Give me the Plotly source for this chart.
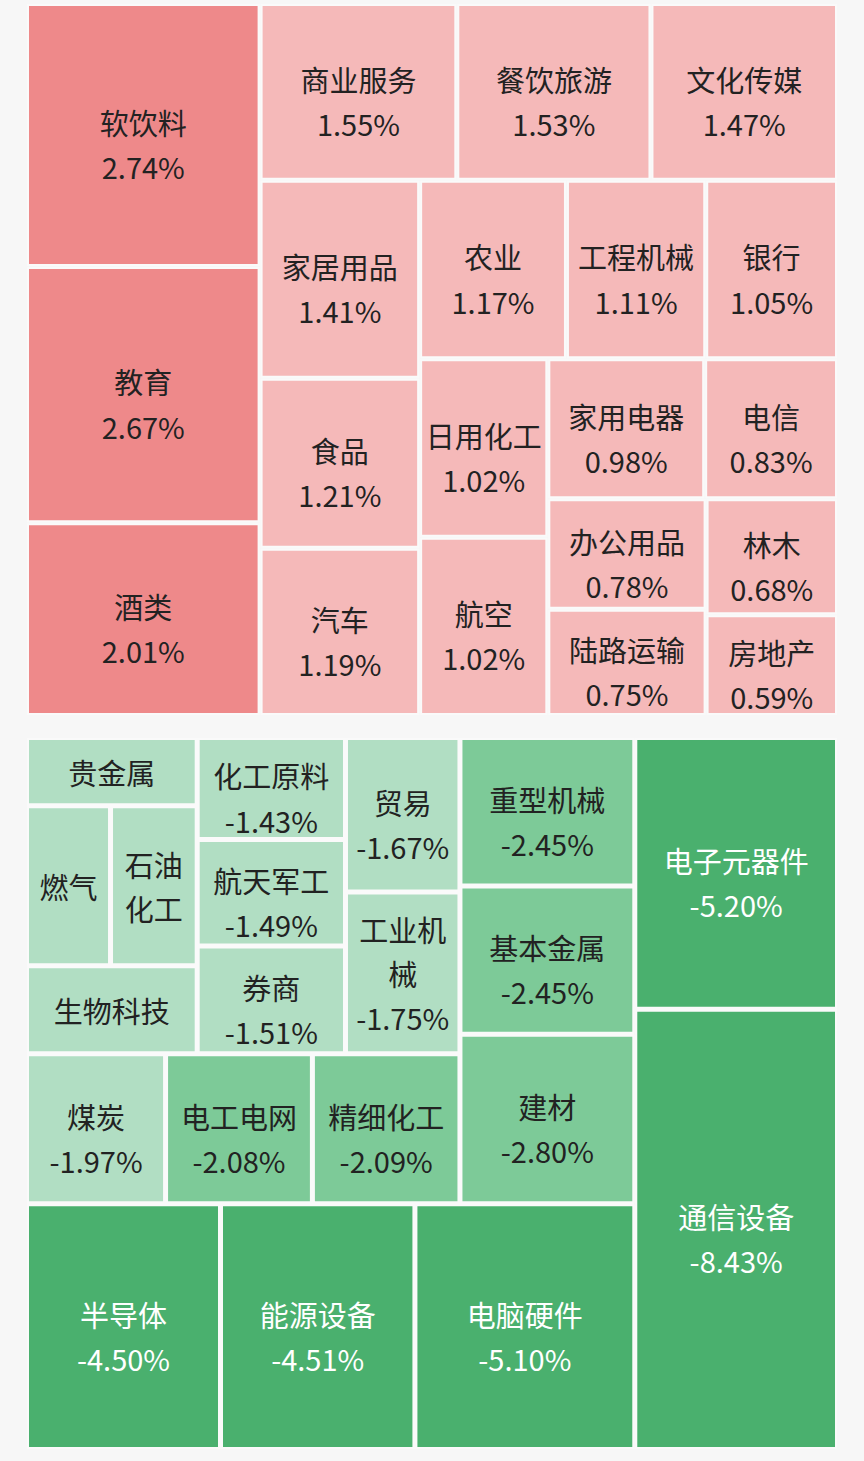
import plotly.graph_objects as go

# 涨幅板块
up_names = ['软饮料', '教育', '酒类', '商业服务', '餐饮旅游', '文化传媒', '家居用品', '食品', '汽车',
            '农业', '工程机械', '银行', '日用化工', '航空', '家用电器', '电信', '办公用品', '陆路运输',
            '林木', '房地产']
up_pct = [2.74, 2.67, 2.01, 1.55, 1.53, 1.47, 1.41, 1.21, 1.19,
          1.17, 1.11, 1.05, 1.02, 1.02, 0.98, 0.83, 0.78, 0.75,
          0.68, 0.59]

# 跌幅板块 (按跌幅从大到小)
down_names = ['通信设备', '电子元器件', '电脑硬件', '能源设备', '半导体', '建材', '基本金属', '重型机械',
              '精细化工', '电工电网', '煤炭', '工业机械', '贸易', '券商', '航天军工', '化工原料',
              '生物科技', '石油化工', '燃气', '贵金属']
down_pct = [-8.43, -5.20, -5.10, -4.51, -4.50, -2.80, -2.45, -2.45,
            -2.09, -2.08, -1.97, -1.75, -1.67, -1.51, -1.49, -1.43,
            -1.42, -1.31, -1.27, -1.10]
# 右侧单独一列的两个板块
down_group_a = ['通信设备', '电子元器件']

# 小格子里的换行 / 不显示数值
wrap = {'石油化工': '石油<br>化工', '工业机械': '工业机<br>械'}
no_value = ['生物科技', '石油化工', '燃气', '贵金属']

# 透明的高字符，只用来把两行文字整体往下推一点
SPACER = '<span style="font-size:45px;fill-opacity:0">|</span>'


def cell_text(name, p):
    lines = wrap.get(name, name).split('<br>')
    if name not in no_value:
        if len(lines) == 1:
            lines[0] = SPACER + lines[0] + SPACER
        lines.append('%.2f%%' % p)
    # 行距按大字号算，字形用小一点的字号
    return '<br>'.join('<span style="font-size:29px">' + s + '</span>' for s in lines)


def up_color(p):
    return '#ee898a' if p >= 2 else '#f5b9b9'


def down_color(p):
    if p <= -4:
        return '#4ab06e'
    if p <= -2:
        return '#7dca98'
    return '#b1dec3'


W, H = 864, 1461
font = 'Noto Sans CJK SC, Noto Sans, sans-serif'
dark = '#222222'

top = go.Treemap(
    labels=up_names,
    parents=[''] * len(up_names),
    values=[abs(v) for v in up_pct],
    text=[cell_text(n, p) for n, p in zip(up_names, up_pct)],
    texttemplate='%{text}',
    textposition='middle center',
    textfont=dict(family=font, size=34, color=dark),
    marker=dict(colors=[up_color(p) for p in up_pct],
                line=dict(color='#fafafa', width=2),
                pad=dict(t=0, l=0, r=0, b=0),
                depthfade=False),
    pathbar=dict(visible=False),
    sort=True,
    hoverinfo='skip',
    domain=dict(x=[28 / W, 836 / W], y=[1 - 714 / H, 1 - 5 / H]),
)

# 下半部分：两个分组节点 + 叶子
b_labels = ['A组', 'B组'] + down_names
b_parents = ['', ''] + ['A组' if n in down_group_a else 'B组' for n in down_names]
b_values = [0, 0] + [abs(v) for v in down_pct]
b_text = ['', ''] + [cell_text(n, p) for n, p in zip(down_names, down_pct)]
b_colors = ['#fafafa', '#fafafa'] + [down_color(p) for p in down_pct]
b_font = [dark, dark] + ['#ffffff' if p <= -4 else dark for p in down_pct]

bottom = go.Treemap(
    labels=b_labels,
    parents=b_parents,
    values=b_values,
    branchvalues='remainder',
    text=b_text,
    texttemplate='%{text}',
    textposition='middle center',
    textfont=dict(family=font, size=34, color=b_font),
    marker=dict(colors=b_colors,
                line=dict(color='#fafafa', width=2),
                pad=dict(t=0, l=0, r=0, b=0),
                depthfade=False),
    pathbar=dict(visible=False),
    tiling=dict(flip='x+y'),
    sort=False,
    hoverinfo='skip',
    domain=dict(x=[28 / W, 836 / W], y=[1 - 1448 / H, 1 - 739 / H]),
)

fig = go.Figure([top, bottom])
fig.update_layout(
    width=W, height=H,
    margin=dict(l=0, r=0, t=0, b=0),
    paper_bgcolor='#f7f7f7',
    uniformtext=dict(minsize=34, mode='show'),
    showlegend=False,
)

fig.write_html('out.html',
               config={'displayModeBar': False},
               post_script="document.body.style.margin='0';"
                           "document.body.style.background='#f7f7f7';")
